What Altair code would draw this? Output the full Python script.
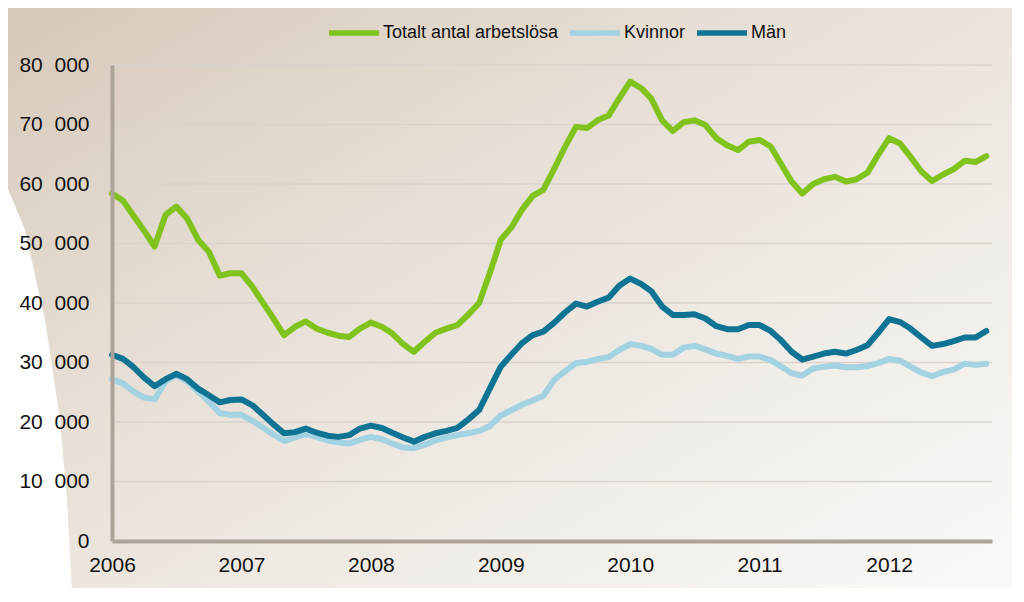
import altair as alt
import pandas as pd

# ---------------- data ----------------
months = pd.date_range("2006-01-01", "2012-10-01", freq="MS").strftime("%Y-%m-%dT00:00:00").tolist()
series_names = ["Totalt antal arbetslösa", "Kvinnor", "Män"]
series_colors = ["#7fc31c", "#a3d2e2", "#0f7394"]

total = [58400, 57200, 54800, 52200, 49500, 54800, 56200, 54200, 50600, 48600,
         44600, 45000, 45000, 42700, 40200, 37400, 34600, 36000, 36900, 35700,
         35000, 34500, 34300, 35700, 36700, 36000, 34900, 33100, 31800, 33500,
         35000, 35700, 36300, 38000, 40000, 45000, 50600, 52800, 55600, 58000,
         59000, 62600, 66200, 69600, 69400, 70700, 71500, 74400, 77200, 76100,
         74400, 70700, 68900, 70400, 70700, 69900, 67700, 66500, 65700, 67100,
         67400, 66300, 63500, 60400, 58400, 60000, 60800, 61200, 60400, 60800,
         61900, 64900, 67700, 66800, 64600, 62100, 60500, 61600, 62500, 63900,
         63700, 64700]

kvinnor = [27200, 26500, 25200, 24100, 23800, 26800, 27900, 26800, 25100, 23400,
           21500, 21200, 21200, 20200, 19100, 17900, 16800, 17400, 18000, 17500,
           16900, 16600, 16400, 17000, 17500, 17100, 16400, 15700, 15600, 16200,
           16900, 17400, 17800, 18100, 18500, 19300, 21100, 22000, 22900, 23600,
           24400, 27100, 28500, 29900, 30100, 30600, 30900, 32100, 33100, 32800,
           32300, 31300, 31300, 32500, 32800, 32200, 31500, 31100, 30600, 31000,
           31000, 30400, 29400, 28200, 27800, 29000, 29300, 29500, 29200, 29200,
           29400, 29900, 30600, 30300, 29300, 28300, 27700, 28400, 28800, 29800,
           29600, 29800]

man = [31300, 30600, 29300, 27500, 26000, 27200, 28100, 27200, 25600, 24500,
       23300, 23700, 23800, 22800, 21300, 19600, 18100, 18300, 18900, 18200,
       17700, 17500, 17800, 18900, 19400, 19000, 18200, 17400, 16700, 17500,
       18100, 18500, 19000, 20400, 22000, 25600, 29300, 31400, 33200, 34600,
       35200, 36700, 38400, 39900, 39400, 40200, 40900, 42900, 44100, 43200,
       42000, 39400, 38000, 38000, 38100, 37400, 36100, 35600, 35600, 36300,
       36300, 35300, 33800, 31800, 30500, 31000, 31500, 31800, 31500, 32100,
       32900, 35000, 37300, 36800, 35700, 34200, 32800, 33100, 33600, 34200,
       34200, 35300]

y_ticks = [0, 10000, 20000, 30000, 40000, 50000, 60000, 70000, 80000]
grid_values = [10000, 20000, 30000, 40000, 50000, 60000, 70000, 80000]
year_ticks = [2006, 2007, 2008, 2009, 2010, 2011, 2012]
x_domain = ["2006-01-01T00:00:00", "2012-10-17T00:00:00"]

rows = []
for name, vals in zip(series_names, [total, kvinnor, man]):
    for m, v in zip(months, vals):
        rows.append({"month": m, "serie": name, "value": v})
df = pd.DataFrame(rows)

# ---------------- layout ----------------
W, H = 880, 476
PL, PT, PR, PB = 104, 57, 20, 47
FONT = "Liberation Sans"

yscale = alt.Scale(domain=[0, 80000], nice=False, zero=True)
yaxis = alt.Axis(values=y_ticks, grid=False, ticks=False, domain=True,
                 domainColor="#ada499", domainWidth=4,
                 labelExpr="datum.value == 0 ? '0' : format(datum.value/1000, 'd') + '\u2007000'",
                 labelFont=FONT, labelFontSize=21, labelColor="#111111",
                 labelPadding=23, title=None, zindex=1)
xaxis = alt.Axis(values=[alt.DateTime(year=y, month=1, date=1) for y in year_ticks],
                 format="%Y", grid=False, ticks=False, domain=True,
                 domainColor="#ada499", domainWidth=4,
                 labelFont=FONT, labelFontSize=21, labelColor="#111111",
                 labelPadding=13, labelFlush=False, labelAlign="center",
                 title=None, zindex=1)

one = pd.DataFrame({"a": [0]})

bg = alt.Chart(one).mark_rect(
    fill=alt.Gradient(
        gradient="linear", x1=0, y1=0, x2=1, y2=1,
        stops=[alt.GradientStop(color="#d6c9ba", offset=0),
               alt.GradientStop(color="#e6ded4", offset=0.35),
               alt.GradientStop(color="#f1ede8", offset=0.7),
               alt.GradientStop(color="#faf9f7", offset=1)]),
    strokeWidth=0,
).encode(x=alt.value(-PL), x2=alt.value(W + PR), y=alt.value(-PT), y2=alt.value(H + PB))

wedge_path = "M -120 85 L -87 165 L -67 255 L -52 355 L -45 435 L -39 545 L -120 545 Z"
wedge = alt.Chart(one).mark_point(
    shape=wedge_path, filled=True, fill="white", opacity=1, strokeWidth=0,
).encode(x=alt.value(0), y=alt.value(0), size=alt.value(4))

grid = alt.Chart(pd.DataFrame({"g": grid_values})).mark_rule(
    color="#d9d3cc", strokeWidth=1.5
).encode(y=alt.Y("g:Q", scale=yscale, axis=yaxis))

lines = alt.Chart(df).mark_line(
    strokeWidth=6, strokeCap="round", strokeJoin="round"
).encode(
    x=alt.X("month:T", scale=alt.Scale(domain=x_domain), axis=xaxis),
    y=alt.Y("value:Q", scale=yscale, axis=yaxis),
    color=alt.Color("serie:N",
                    scale=alt.Scale(domain=series_names, range=series_colors),
                    sort=series_names,
                    legend=alt.Legend(orient="none", legendX=214, legendY=-60,
                                      direction="horizontal", title=None,
                                      symbolType="stroke", symbolSize=2500,
                                      symbolStrokeWidth=5.5,
                                      labelFont=FONT, labelFontSize=18,
                                      labelColor="#111111", labelLimit=400,
                                      labelOffset=1, columnPadding=0)),
)

chart = alt.layer(bg, wedge, grid, lines).properties(
    width=W, height=H,
    autosize=alt.AutoSizeParams(type="none"),
    padding={"left": PL, "top": PT, "right": PR, "bottom": PB},
).configure_view(strokeWidth=0)

chart.save("out.html", embed_options={"renderer": "svg", "actions": False})
